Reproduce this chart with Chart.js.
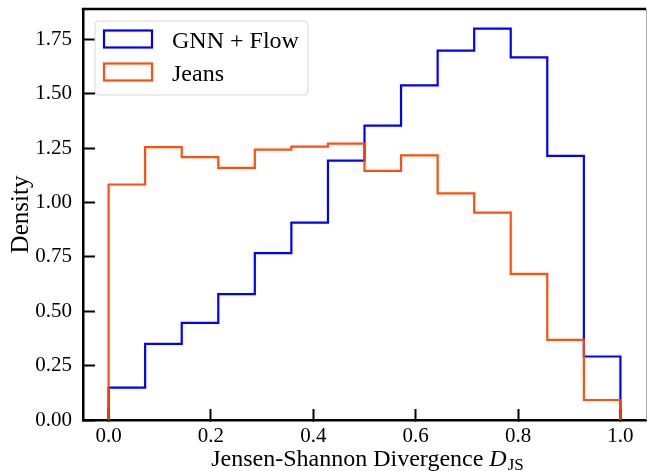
<!DOCTYPE html>
<html><head><meta charset="utf-8">
<script src="https://cdn.jsdelivr.net/npm/chart.js@4"></script>
<style>html,body{margin:0;padding:0;background:#fff;overflow:hidden}</style>
</head><body>
<canvas id="c" width="647" height="471"></canvas>
<script>
const binEdges = [0, 0.0714, 0.1429, 0.2143, 0.2857, 0.3571, 0.4286, 0.5, 0.5714, 0.6429, 0.7143, 0.7857, 0.8571, 0.9286, 1.0];
const gnnFlowDensity = [0.149, 0.350, 0.447, 0.579, 0.767, 0.908, 1.193, 1.354, 1.539, 1.699, 1.800, 1.668, 1.215, 0.292];
const jeansDensity = [1.083, 1.255, 1.209, 1.159, 1.243, 1.257, 1.271, 1.146, 1.217, 1.042, 0.954, 0.672, 0.368, 0.092];
const seriesLabels = ['GNN + Flow', 'Jeans'];
const seriesColors = ['rgba(0,0,255,1)', 'rgba(255,69,0,0.95)'];
const xTicks = [0.0, 0.2, 0.4, 0.6, 0.8, 1.0];
const yTicks = [0.00, 0.25, 0.50, 0.75, 1.00, 1.25, 1.50, 1.75];
const xTitleMain = 'Jensen-Shannon Divergence ';
const xTitleVar = 'D';
const xTitleSub = 'JS';
const yTitle = 'Density';

const SERIF = '"Liberation Serif", "DejaVu Serif", serif';

function stepPoints(values) {
  const pts = [{x: binEdges[0], y: 0}];
  values.forEach((v, i) => pts.push({x: binEdges[i + 1], y: v}));
  pts.push({x: binEdges[binEdges.length - 1], y: 0});
  return pts;
}

function zeroPad(s) { s.paddingTop = 0; s.paddingBottom = 0; s.paddingLeft = 0; s.paddingRight = 0; }

const decor = {
  id: 'decor',
  afterDraw(chart) {
    const {ctx, chartArea: a} = chart;
    ctx.save();
    ctx.strokeStyle = '#000';
    ctx.lineWidth = 2.5;
    ctx.beginPath();
    ctx.moveTo(a.left - 1.25, a.top);
    ctx.lineTo(a.right, a.top);
    ctx.stroke();
    ctx.strokeStyle = '#aaaaaa';
    ctx.lineWidth = 1;
    ctx.beginPath();
    ctx.moveTo(a.right + 0.5, a.top);
    ctx.lineTo(a.right + 0.5, a.bottom);
    ctx.stroke();

    const lx = 95, ly = 21, lw = 213, lh = 74, r = 4;
    ctx.beginPath();
    ctx.moveTo(lx + r, ly);
    ctx.arcTo(lx + lw, ly, lx + lw, ly + lh, r);
    ctx.arcTo(lx + lw, ly + lh, lx, ly + lh, r);
    ctx.arcTo(lx, ly + lh, lx, ly, r);
    ctx.arcTo(lx, ly, lx + lw, ly, r);
    ctx.closePath();
    ctx.fillStyle = 'rgba(255,255,255,0.8)';
    ctx.fill();
    ctx.strokeStyle = '#d6d6d6';
    ctx.lineWidth = 1;
    ctx.stroke();
    const rowY = [30.5, 63.5];
    const baseY = [48, 81];
    ctx.font = '24px ' + SERIF;
    ctx.textBaseline = 'alphabetic';
    ctx.textAlign = 'left';
    seriesLabels.forEach((lab, i) => {
      ctx.strokeStyle = seriesColors[i];
      ctx.lineWidth = 2.2;
      ctx.strokeRect(104, rowY[i], 48, 17);
      ctx.fillStyle = '#000';
      ctx.fillText(lab, 172, baseY[i]);
    });

    ctx.fillStyle = '#000';
    const fMain = '24px ' + SERIF, fVar = 'italic 24px ' + SERIF, fSub = '17px ' + SERIF;
    ctx.font = fMain; const w1 = ctx.measureText(xTitleMain).width;
    ctx.font = fVar; const w2 = ctx.measureText(xTitleVar).width;
    ctx.font = fSub; const w3 = ctx.measureText(xTitleSub).width;
    const total = w1 + w2 + w3 + 1;
    const x0 = (a.left + a.right) / 2 - total / 2 + 3;
    const by = 466;
    ctx.font = fMain; ctx.fillText(xTitleMain, x0, by);
    ctx.font = fVar; ctx.fillText(xTitleVar, x0 + w1, by);
    ctx.font = fSub; ctx.fillText(xTitleSub, x0 + w1 + w2 + 1, by + 4);

    ctx.translate(28, (a.top + a.bottom) / 2);
    ctx.rotate(-Math.PI / 2);
    ctx.font = '25px ' + SERIF;
    ctx.textAlign = 'center';
    ctx.textBaseline = 'alphabetic';
    ctx.fillText(yTitle, 0, 0);
    ctx.restore();
  }
};

new Chart(document.getElementById('c'), {
  type: 'line',
  data: {
    datasets: [
      {label: seriesLabels[0], data: stepPoints(gnnFlowDensity), borderColor: seriesColors[0], borderWidth: 2.2, stepped: 'after', pointRadius: 0, fill: false, order: 1},
      {label: seriesLabels[1], data: stepPoints(jeansDensity), borderColor: seriesColors[1], borderWidth: 2.2, stepped: 'after', pointRadius: 0, fill: false, order: 0}
    ]
  },
  options: {
    responsive: false,
    animation: false,
    devicePixelRatio: 1,
    layout: {padding: {left: 0, top: 9, right: 1, bottom: 0}},
    plugins: {legend: {display: false}, tooltip: {enabled: false}},
    scales: {
      x: {
        type: 'linear', min: -0.05, max: 1.05,
        afterBuildTicks: s => { s.ticks = xTicks.map(v => ({value: v})); },
        afterFit: s => { s.height = 51; zeroPad(s); },
        grid: {drawOnChartArea: false, tickLength: -11, tickWidth: 2, color: '#000'},
        border: {display: true, color: '#000', width: 2.5},
        ticks: {padding: 15, color: '#000', font: {family: SERIF, size: 21}, callback: v => Number(v).toFixed(1), maxRotation: 0, autoSkip: false}
      },
      y: {
        type: 'linear', min: 0, max: 1.89,
        afterBuildTicks: s => { s.ticks = yTicks.map(v => ({value: v})); },
        afterFit: s => { s.width = 83; zeroPad(s); },
        grid: {drawOnChartArea: false, tickLength: -12, tickWidth: 2, color: '#000'},
        border: {display: true, color: '#000', width: 2.5},
        ticks: {padding: 23, color: '#000', font: {family: SERIF, size: 21}, callback: v => Number(v).toFixed(2), autoSkip: false}
      }
    }
  },
  plugins: [decor]
});
</script>
</body></html>
